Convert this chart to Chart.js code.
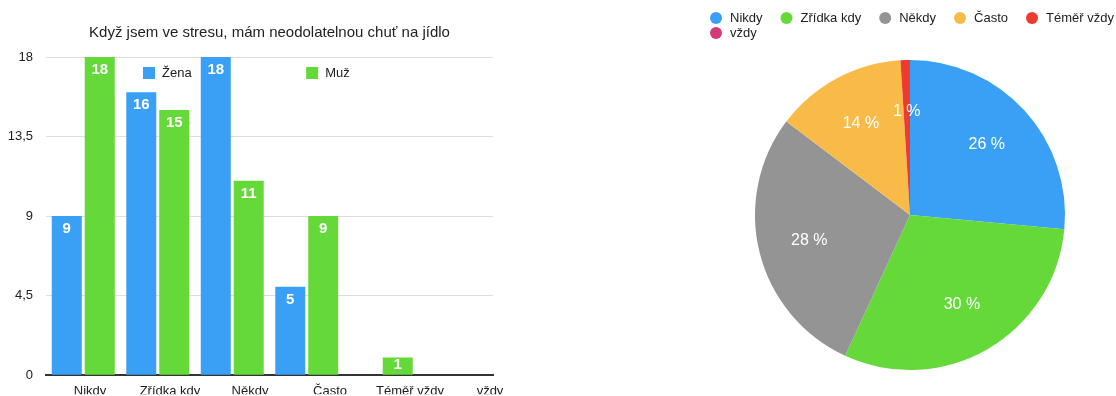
<!DOCTYPE html>
<html lang="cs">
<head>
<meta charset="utf-8">
<title>Stres a chuť na jídlo</title>
<script src="https://cdn.jsdelivr.net/npm/chart.js@4.4.1/dist/chart.umd.min.js"></script>
<style>
  html, body { margin: 0; padding: 0; background: #fff; }
  body { width: 1116px; height: 396px; position: relative; overflow: hidden; }
  #barChart { position: absolute; left: 0; top: 0; }
  #pieChart { position: absolute; left: 704px; top: 0; }
</style>
</head>
<body>
<canvas id="barChart" width="560" height="396"></canvas>
<canvas id="pieChart" width="412" height="396"></canvas>
<script>
// Answers split by gender, plus the combined share for the pie
const categories = ['Nikdy', 'Zřídka kdy', 'Někdy', 'Často', 'Téměř vždy', 'vždy'];
const zenaValues = [9, 16, 18, 5, 0, 0];
const muzValues = [18, 15, 11, 9, 1, 0];
const pieValues = [27, 31, 29, 14, 1, 0];
const yTickLabels = ['0', '4,5', '9', '13,5', '18'];
const chartTitle = 'Když jsem ve stresu, mám neodolatelnou chuť na jídlo';

const BLUE = '#3aa0f6';
const GREEN = '#66d93a';
const pieColors = [BLUE, GREEN, '#949494', '#f8bb47', '#ef3a30', '#d6397a'];
const FONT = '"Liberation Sans", Arial, Helvetica, sans-serif';
const TEXT = '#222';

Chart.defaults.font.family = FONT;
Chart.defaults.color = TEXT;
Chart.defaults.animation = false;

// White value labels near the top of each bar
const barValueLabels = {
    id: 'barValueLabels',
    afterDatasetsDraw(chart) {
        const ctx = chart.ctx;
        ctx.save();
        ctx.fillStyle = '#fff';
        ctx.font = 'bold 15px ' + FONT;
        ctx.textAlign = 'center';
        ctx.textBaseline = 'middle';
        chart.data.datasets.forEach((ds, i) => {
            chart.getDatasetMeta(i).data.forEach((bar, j) => {
                const v = ds.data[j];
                if (!v) return;
                const y = Math.min(bar.y + 13, (bar.y + bar.base) / 2 - 1);
                ctx.fillText(v, bar.x, y);
            });
        });
        ctx.restore();
    }
};

// Square legend markers placed inside the plot area
const boxLegend = {
    id: 'boxLegend',
    afterDraw(chart, args, opts) {
        const { ctx, chartArea } = chart;
        ctx.save();
        ctx.font = '13px ' + FONT;
        ctx.textAlign = 'left';
        ctx.textBaseline = 'middle';
        chart.data.datasets.forEach((ds, i) => {
            const x = chartArea.left + chartArea.width * opts.columns[i];
            const y = chartArea.top + opts.offsetY;
            ctx.fillStyle = ds.backgroundColor;
            ctx.fillRect(x, y - 6, 12, 12);
            ctx.fillStyle = TEXT;
            ctx.fillText(ds.label, x + 19, y);
        });
        ctx.restore();
    }
};

// Round-dot legend that wraps across the top of the pie canvas
const dotLegend = {
    id: 'dotLegend',
    afterDraw(chart, args, opts) {
        const { ctx, width } = chart;
        const colors = chart.data.datasets[0].backgroundColor;
        ctx.save();
        ctx.font = '13px ' + FONT;
        ctx.textAlign = 'left';
        ctx.textBaseline = 'middle';
        let x = opts.left;
        let y = opts.top;
        chart.data.labels.forEach((label, i) => {
            const w = 20 + ctx.measureText(label).width;
            if (x > opts.left && x + w > width - 2) {
                x = opts.left;
                y += opts.lineHeight;
            }
            ctx.fillStyle = colors[i];
            ctx.beginPath();
            ctx.arc(x + 6, y, 6, 0, Math.PI * 2);
            ctx.fill();
            ctx.fillStyle = TEXT;
            ctx.fillText(label, x + 20, y);
            x += w + 18;
        });
        ctx.restore();
    }
};

// Percent labels inside the slices
const piePercentLabels = {
    id: 'piePercentLabels',
    afterDatasetsDraw(chart) {
        const ctx = chart.ctx;
        const ds = chart.data.datasets[0];
        const total = ds.data.reduce((a, b) => a + b, 0);
        ctx.save();
        ctx.fillStyle = '#fff';
        ctx.font = '16px ' + FONT;
        ctx.textAlign = 'center';
        ctx.textBaseline = 'middle';
        chart.getDatasetMeta(0).data.forEach((arc, i) => {
            const v = ds.data[i];
            if (!v) return;
            const mid = (arc.startAngle + arc.endAngle) / 2;
            const r = arc.outerRadius * 0.67;
            ctx.fillText(Math.round(v / total * 100) + ' %',
                arc.x + Math.cos(mid) * r, arc.y + Math.sin(mid) * r);
        });
        ctx.restore();
    }
};

new Chart(document.getElementById('barChart'), {
    type: 'bar',
    data: {
        labels: categories,
        datasets: [
            { label: 'Žena', data: zenaValues, backgroundColor: BLUE, categoryPercentage: 0.885, barPercentage: 0.91 },
            { label: 'Muž', data: muzValues, backgroundColor: GREEN, categoryPercentage: 0.885, barPercentage: 0.91 }
        ]
    },
    options: {
        responsive: false,
        layout: { padding: { left: 0, right: 67, top: 0, bottom: 0 } },
        scales: {
            x: {
                grid: { display: false, drawTicks: false },
                border: { color: '#333', width: 2 },
                ticks: { display: false },
                afterFit(scale) { scale.height = 0; }
            },
            // category names sit on their own, slightly wider-spaced track
            xNames: {
                type: 'linear',
                position: 'bottom',
                bounds: 'data',
                offset: false,
                min: -0.55,
                max: 5.0375,
                grid: { display: false, drawTicks: false },
                border: { display: false },
                ticks: {
                    padding: 8,
                    font: { size: 13 },
                    color: TEXT,
                    autoSkip: false,
                    maxRotation: 0,
                    callback: (v) => categories[v]
                },
                afterBuildTicks(scale) {
                    scale.ticks = categories.map((c, i) => ({ value: i }));
                },
                afterFit(scale) { scale.height = 19; }
            },
            y: {
                min: 0,
                max: 18,
                grid: { color: '#dedede', drawTicks: false },
                border: { display: false },
                ticks: {
                    stepSize: 4.5,
                    padding: 13,
                    font: { size: 13 },
                    color: TEXT,
                    callback: (v, i) => yTickLabels[i]
                },
                afterFit(scale) { scale.width = 46; }
            }
        },
        plugins: {
            legend: { display: false },
            tooltip: { enabled: false },
            title: {
                display: true,
                fullSize: false,
                text: chartTitle,
                color: TEXT,
                font: { size: 15, weight: 'normal' },
                padding: { top: 24, bottom: 15 }
            },
            boxLegend: { columns: [0.217, 0.582], offsetY: 16 }
        }
    },
    plugins: [barValueLabels, boxLegend]
});

new Chart(document.getElementById('pieChart'), {
    type: 'pie',
    data: {
        labels: categories,
        datasets: [{ data: pieValues, backgroundColor: pieColors, borderWidth: 0 }]
    },
    options: {
        responsive: false,
        layout: { padding: { top: 60, bottom: 26, left: 0, right: 0 } },
        plugins: {
            legend: { display: false },
            tooltip: { enabled: false },
            dotLegend: { left: 6, top: 18, lineHeight: 15 }
        }
    },
    plugins: [dotLegend, piePercentLabels]
});
</script>
</body>
</html>
